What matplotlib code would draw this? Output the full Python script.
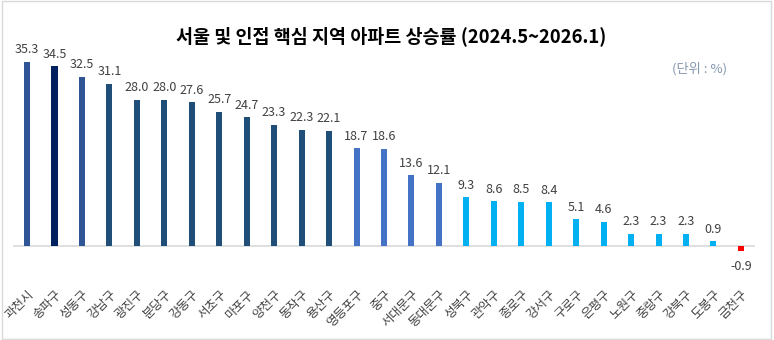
import matplotlib.pyplot as plt
from matplotlib.patches import Rectangle
from matplotlib.transforms import ScaledTranslation

plt.rcParams['font.family'] = ['Noto Sans CJK KR', 'DejaVu Sans']

regions = ['과천시', '송파구', '성동구', '강남구', '광진구', '분당구', '강동구', '서초구', '마포구',
           '양천구', '동작구', '용산구', '영등포구', '중구', '서대문구', '동대문구', '성북구', '관악구',
           '종로구', '강서구', '구로구', '은평구', '노원구', '중랑구', '강북구', '도봉구', '금천구']
rates = [35.3, 34.5, 32.5, 31.1, 28.0, 28.0, 27.6, 25.7, 24.7, 23.3, 22.3, 22.1, 18.7, 18.6,
         13.6, 12.1, 9.3, 8.6, 8.5, 8.4, 5.1, 4.6, 2.3, 2.3, 2.3, 0.9, -0.9]
bar_colors = (['#2F5597', '#002060', '#2F5597'] + ['#1F4E79'] * 9 + ['#4472C4'] * 4
              + ['#00B0F0'] * 10 + ['#FF0000'])

fig = plt.figure(figsize=(7.74, 3.40), dpi=100)
ax = fig.add_axes([0.0172, 0.2306, 0.9578, 0.6132])

x = range(len(regions))
ax.bar(x, rates, width=0.22, color=bar_colors)
ax.axhline(0, color='#D9D9D9', lw=1.2, zorder=0)

for i, v in enumerate(rates):
    if v >= 0:
        ax.annotate(f'{v:.1f}', (i, v), xytext=(0, 4), textcoords='offset points',
                    ha='center', va='bottom', fontsize=9, color='#404040')
    else:
        ax.annotate(f'{v:.1f}', (i, v), xytext=(0, -7), textcoords='offset points',
                    ha='center', va='top', fontsize=9, color='#404040')

ax.set_xlim(-0.5, len(regions) - 0.5)
ax.set_ylim(-3, 37)
ax.set_yticks([])
ax.set_xticks(list(x))
ax.set_xticklabels(regions, rotation=45, ha='right', va='center', rotation_mode='anchor',
                   fontsize=9, color='#404040')
ax.tick_params(axis='x', length=0, pad=22)
offset = ScaledTranslation(5 / 100, 0, fig.dpi_scale_trans)
for lbl in ax.get_xticklabels():
    lbl.set_transform(lbl.get_transform() + offset)
for s in ax.spines.values():
    s.set_visible(False)

fig.text(0.505, 1 - 36 / 340, '서울 및 인접 핵심 지역 아파트 상승률 (2024.5~2026.1)',
         ha='center', va='center', fontsize=13.3, fontweight='bold', color='black')
fig.text(0.94, 1 - 69 / 340, '(단위 : %)', ha='right', va='center', fontsize=9.5, color='#8497B0')

fig.patches.append(Rectangle((0.002, 0.004), 0.994, 0.992, transform=fig.transFigure,
                             fill=False, edgecolor='#D9D9D9', lw=1))

fig.savefig('out.png', dpi=100)
